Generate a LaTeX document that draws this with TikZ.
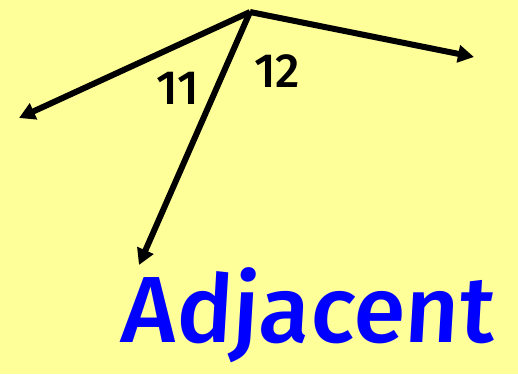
\documentclass[tikz,border=0pt]{standalone}
\usepackage{fontspec}
\setmainfont{Fira Sans}
\newfontfamily\handfont{Fira Sans Medium}
\usetikzlibrary{arrows.meta}
\definecolor{bgyellow}{RGB}{255,255,153}
\definecolor{inkblue}{RGB}{0,0,255}
\tikzset{
  ray/.style={line width=6pt, -{Triangle[length=16pt,width=17pt]}, black},
  numlabel/.style={font=\handfont\fontsize{48}{48}\selectfont, inner sep=0pt},
  word/.style={font=\handfont\fontsize{94}{94}\selectfont, text=inkblue, inner sep=0pt, anchor=base west, xslant=0.06}
}
\begin{document}
\begin{tikzpicture}[x=1pt,y=-1pt]
  \fill[bgyellow] (0,0) rectangle (518,374);
  \useasboundingbox (0,0) rectangle (518,374);
  \coordinate (v) at (250,12);
  \coordinate (l) at (19,118);
  \coordinate (d) at (139,265);
  \coordinate (r) at (474,57);
  \draw[ray] (v) -- (l);
  \draw[ray] (v) -- (d);
  \draw[ray] (v) -- (r);
  \node[numlabel] (n11) at (178,88) {11};
  \node[numlabel] (n12) at (277,71) {12};
  \node[word] (adj) at (120,342) {Adjacent};
\end{tikzpicture}
\end{document}
